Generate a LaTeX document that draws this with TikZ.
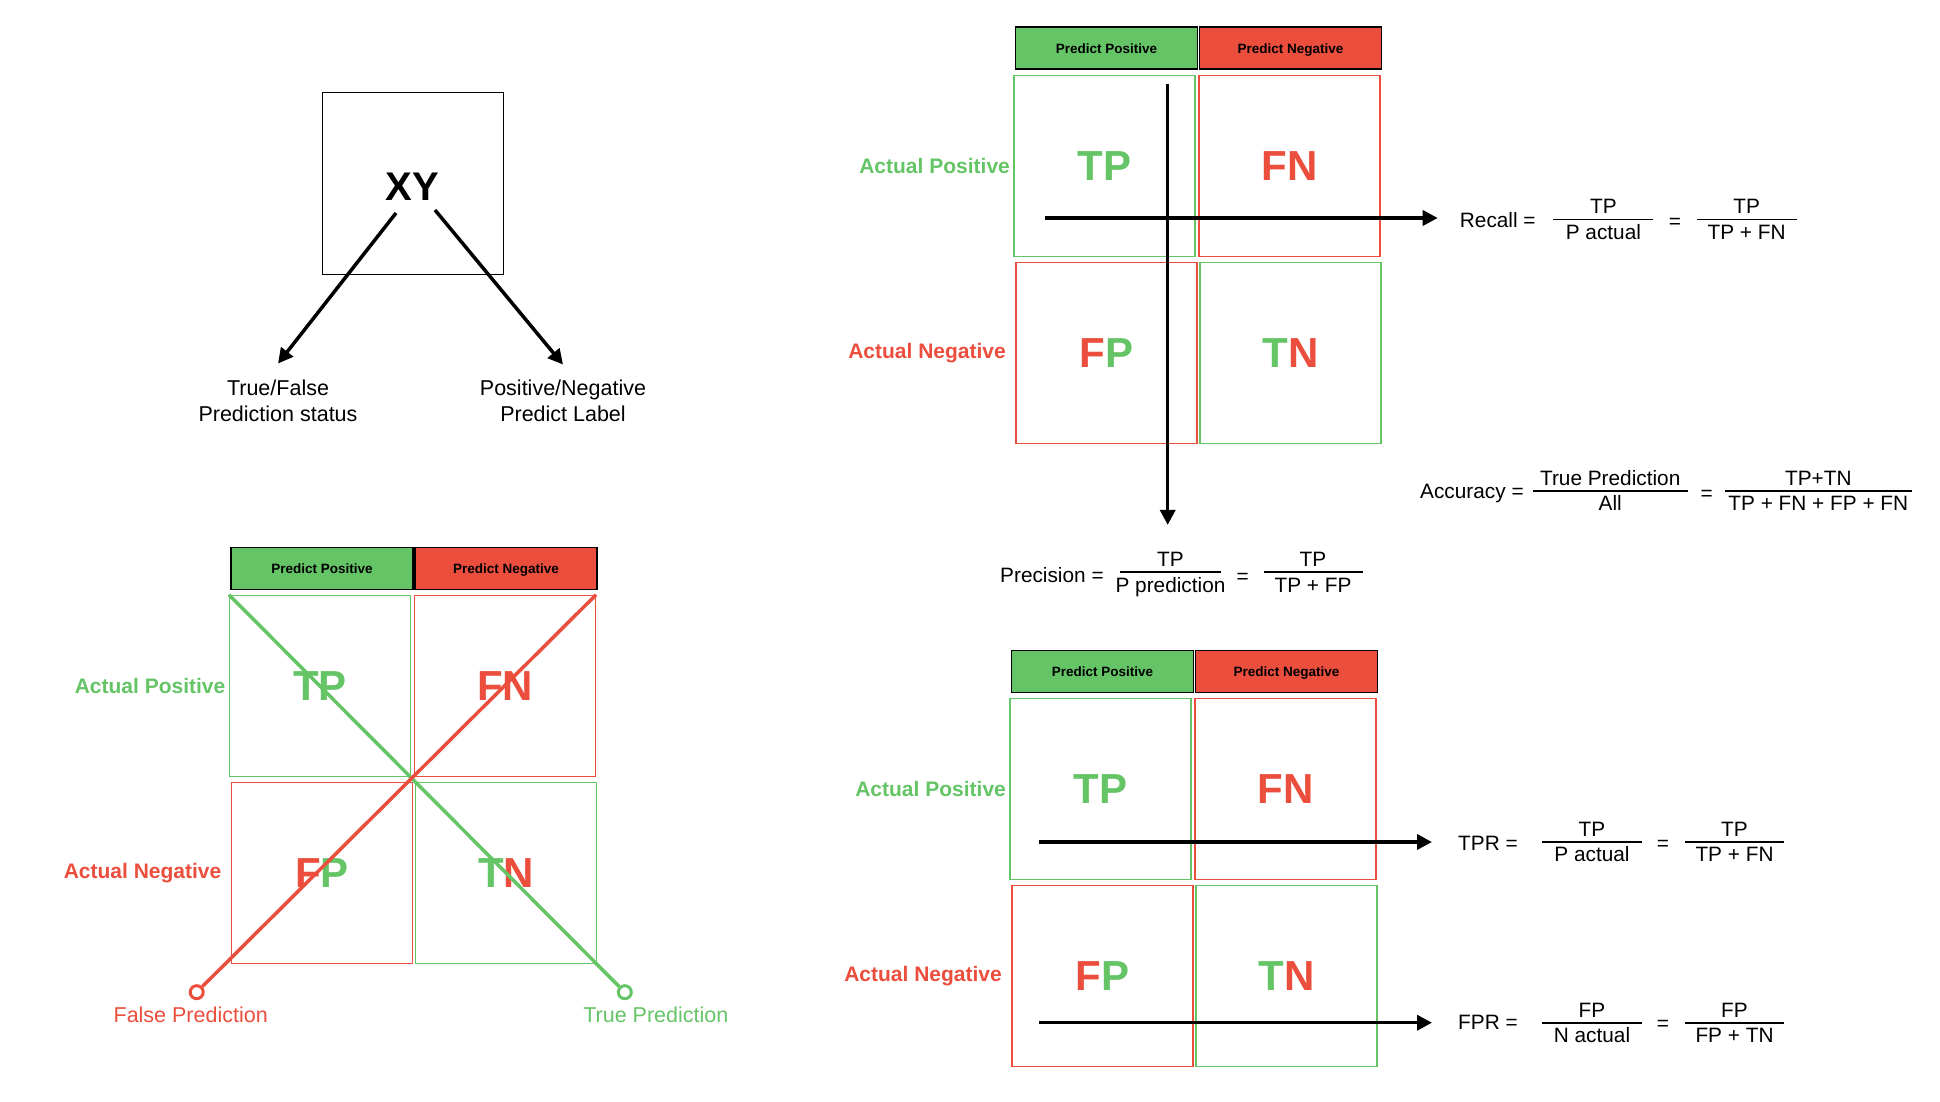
\documentclass[tikz,border=0pt]{standalone}
\usepackage{fontspec}
\setmainfont{Liberation Sans}
\usetikzlibrary{arrows.meta, positioning}

\definecolor{okgreen}{RGB}{101,196,102}
\definecolor{okred}{RGB}{235,78,61}

% fraction: name, centre, bar length, top, bottom
\newcommand{\ratio}[5]{%
	\coordinate (#1) at #2;
	\draw[fracbar] ([xshift = -#3/2]#1) -- ([xshift = #3/2]#1);
	\node[formula, above = 0.5pt] (#1num) at (#1) {#4};
	\node[formula, below = 4pt] (#1den) at (#1) {#5};
}

\begin{document}
\begin{tikzpicture}[x = 1pt, y = -1pt, > = {Triangle[length = 15pt, width = 15pt]},
	cell/.style = {draw, line width = 1.2pt, minimum size = 181pt, inner sep = 0pt, font = \fontsize{42}{42}\selectfont\bfseries},
	head/.style = {draw = black, line width = 1.6pt, minimum width = 182pt, minimum height = 42pt, inner sep = 0pt, text height = 9.9pt, text depth = 0pt, font = \fontsize{13.5}{14}\selectfont\bfseries},
	rowlabel/.style = {anchor = east, font = \fontsize{21}{24}\selectfont\bfseries},
	note/.style = {align = center, font = \fontsize{21.5}{26}\selectfont},
	formula/.style = {font = \fontsize{20.8}{24}\selectfont, text height = 14.5pt, text depth = 4pt, inner sep = 1pt},
	fracbar/.style = {line width = 1.8pt},
	thickline/.style = {line width = 3.5pt},
	ring/.style = {circle, line width = 3pt, fill = white, minimum size = 13pt, inner sep = 0pt}]

	\useasboundingbox (0, 0) rectangle (1940, 1102);
	
	% The XY box
	
	\node[draw, line width = 1pt, minimum size = 181pt, inner sep = 0pt, text height = 33.6pt, font = \fontsize{40}{40}\selectfont\bfseries] (xy) at (412.5, 183.5) {XY};
	\coordinate (xyl) at (396, 213);
	\coordinate (xyr) at (435, 210);
	
	\node[note] (status) at (278, 401) {True/False\\Prediction status};
	\node[note] (predlabel) at (563, 401) {Positive/Negative\\Predict Label};
	
	\begin{scope}[->, thickline]
	
		\draw (xyl) -- ([yshift = 13pt]status.north);
		\draw (xyr) -- ([yshift = 12pt]predlabel.north);
		
	\end{scope}
	
	% Recall / precision matrix
	
	\begin{scope}[shift = {(1106.5, 48.3)}]
	
		\node[head, fill = okgreen] (rpp) at (0, 0) {Predict Positive};
		\node[head, fill = okred] (rpn) at (184, 0) {Predict Negative};
		\node[cell, draw = okgreen, text = okgreen] (rtp) at (-2, 117.5) {TP};
		\node[cell, draw = okred, text = okred] (rfn) at (183, 117.5) {FN};
		\node[cell, draw = okred] (rfp) at (0, 304.5) {\textcolor{okred}{F}\textcolor{okgreen}{P}};
		\node[cell, draw = okgreen] (rtn) at (184, 304.5) {\textcolor{okgreen}{T}\textcolor{okred}{N}};
		
	\end{scope}
	
	\node[rowlabel, text = okgreen] (rap) at (rtp.west) {Actual Positive};
	\node[rowlabel, text = okred] (ran) at ([xshift = -6pt]rfp.west) {Actual Negative};
	
	% Diagonal matrix
	
	\begin{scope}[shift = {(322, 568.3)}]
	
		\node[head, fill = okgreen] (dpp) at (0, 0) {Predict Positive};
		\node[head, fill = okred] (dpn) at (184, 0) {Predict Negative};
		\node[cell, draw = okgreen, text = okgreen] (dtp) at (-2, 117.5) {TP};
		\node[cell, draw = okred, text = okred] (dfn) at (183, 117.5) {FN};
		\node[cell, draw = okred] (dfp) at (0, 304.5) {\textcolor{okred}{F}\textcolor{okgreen}{P}};
		\node[cell, draw = okgreen] (dtn) at (184, 304.5) {\textcolor{okgreen}{T}\textcolor{okred}{N}};
		
	\end{scope}
	
	\node[rowlabel, text = okgreen] (dap) at (dtp.west) {Actual Positive};
	\node[rowlabel, text = okred] (dan) at ([xshift = -6pt]dfp.west) {Actual Negative};
	
	\node[ring, draw = okgreen] (truedot) at (624.8, 992.2) {};
	\node[ring, draw = okred] (falsedot) at (196.7, 992.2) {};
	
	\draw[thickline, okgreen] (dtp.north west) -- (truedot);
	\draw[thickline, okred] (dfn.north east) -- (falsedot);
	
	\node[note, text = okgreen, below = 3pt of truedot, xshift = 31pt] (truelbl) {True Prediction};
	\node[note, text = okred, below = 3pt of falsedot, xshift = -6pt] (falselbl) {False Prediction};
	
	% TPR / FPR matrix
	
	\begin{scope}[shift = {(1102.5, 671.5)}]
	
		\node[head, fill = okgreen] (tpp) at (0, 0) {Predict Positive};
		\node[head, fill = okred] (tpn) at (184, 0) {Predict Negative};
		\node[cell, draw = okgreen, text = okgreen] (ttp) at (-2, 117.5) {TP};
		\node[cell, draw = okred, text = okred] (tfn) at (183, 117.5) {FN};
		\node[cell, draw = okred] (tfp) at (0, 304.5) {\textcolor{okred}{F}\textcolor{okgreen}{P}};
		\node[cell, draw = okgreen] (ttn) at (184, 304.5) {\textcolor{okgreen}{T}\textcolor{okred}{N}};
		
	\end{scope}
	
	\node[rowlabel, text = okgreen] (tap) at (ttp.west) {Actual Positive};
	\node[rowlabel, text = okred] (tan) at ([xshift = -6pt]tfp.west) {Actual Negative};
	
	% Formulas
	
	\node[formula, anchor = west] (recall) at (1458.7, 222) {Recall =};
	\ratio{rec1}{(1603.4, 219.5)}{100}{TP}{P actual}
	\node[formula] (receq) at (1674.8, 223.5) {=};
	\ratio{rec2}{(1746.6, 219.5)}{100}{TP}{TP + FN}
	
	\node[formula, anchor = west] (accuracy) at (1419, 493.7) {Accuracy =};
	\ratio{acc1}{(1610.2, 491)}{155}{True Prediction}{All}
	\node[formula] (acceq) at (1706.7, 495.3) {=};
	\ratio{acc2}{(1818.3, 491)}{187}{TP+TN}{TP + FN + FP + FN}
	
	\node[formula, anchor = west] (precision) at (999, 577) {Precision =};
	\ratio{prec1}{(1170.5, 572.3)}{101}{TP}{P prediction}
	\node[formula] (preceq) at (1242.7, 578) {=};
	\ratio{prec2}{(1313, 572.3)}{99}{TP}{TP + FP}
	
	\node[formula, anchor = west] (tpr) at (1457, 845) {TPR =};
	\ratio{tpr1}{(1592, 842)}{100}{TP}{P actual}
	\node[formula] (tpreq) at (1663, 845) {=};
	\ratio{tpr2}{(1734.5, 842)}{99}{TP}{TP + FN}
	
	\node[formula, anchor = west] (fpr) at (1457, 1024.7) {FPR =};
	\ratio{fpr1}{(1592, 1022.7)}{100}{FP}{N actual}
	\node[formula] (fpreq) at (1663, 1025) {=};
	\ratio{fpr2}{(1734.5, 1022.7)}{99}{FP}{FP + TN}
	
	% Arrows through the matrices
	
	\coordinate (recfrom) at (1045, 218);
	\coordinate (precfrom) at (1167.7, 84);
	\coordinate (tprfrom) at (1039, 842);
	\coordinate (fprfrom) at (1039, 1022.7);
	
	\begin{scope}[->, thickline]
	
		\draw[shorten > = 21pt] (recfrom) -- (recfrom -| recall.west);
		\draw[shorten > = 26pt] (precfrom) -- (precfrom |- prec1num.north);
		\draw[shorten > = 25pt] (tprfrom) -- (tprfrom -| tpr.west);
		\draw[shorten > = 25pt] (fprfrom) -- (fprfrom -| fpr.west);
		
	\end{scope}

\end{tikzpicture}
\end{document}
